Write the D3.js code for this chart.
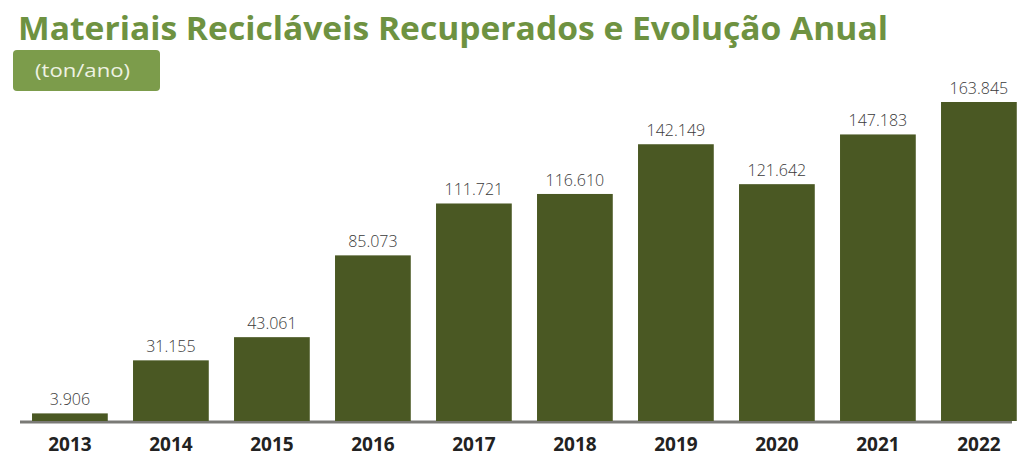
<!DOCTYPE html>
<html>
<head>
<meta charset="utf-8">
<script src="https://cdn.jsdelivr.net/npm/d3@7"></script>
<style>
  html, body { margin: 0; padding: 0; background: #ffffff; }
  svg { display: block; }
</style>
</head>
<body>
<svg id="chart" width="1020" height="457"></svg>
<script>
// Recovered recyclable materials per year (ton/ano)
const years = ["2013", "2014", "2015", "2016", "2017", "2018", "2019", "2020", "2021", "2022"];
const tons = [3906, 31155, 43061, 85073, 111721, 116610, 142149, 121642, 147183, 163845];
const valueLabels = ["3.906", "31.155", "43.061", "85.073", "111.721", "116.610", "142.149", "121.642", "147.183", "163.845"];

const titleText = "Materiais Recicláveis Recuperados e Evolução Anual";
const unitText = "(ton/ano)";

const baseY = 421;
const svg = d3.select("#chart");

const x = d3.scaleBand()
  .domain(years)
  .range([19.4, 1029.4])
  .paddingInner(0.25)
  .paddingOuter(0.125);

const y = d3.scaleLinear()
  .domain([0, 163845])
  .range([baseY, 102]);

// Title
svg.append("text")
  .attr("x", 18)
  .attr("y", 40)
  .attr("textLength", 870)
  .attr("lengthAdjust", "spacingAndGlyphs")
  .style("font-family", "'Open Sans', 'Noto Sans', sans-serif")
  .style("font-weight", 700)
  .style("font-size", "33px")
  .style("fill", "#6e9241")
  .text(titleText);

// Unit badge
svg.append("rect")
  .attr("x", 13).attr("y", 50)
  .attr("width", 147).attr("height", 41)
  .attr("rx", 4)
  .style("fill", "#7c9c4b");
svg.append("text")
  .attr("x", 35).attr("y", 77)
  .attr("textLength", 95)
  .attr("lengthAdjust", "spacingAndGlyphs")
  .style("font-family", "'Open Sans', 'Noto Sans', sans-serif")
  .style("font-weight", 400)
  .style("font-size", "19px")
  .style("fill", "#eef2e2")
  .text(unitText);

// Baseline
svg.append("line")
  .attr("x1", 20).attr("x2", 1012)
  .attr("y1", baseY + 1).attr("y2", baseY + 1)
  .style("stroke", "#7a7a76")
  .style("stroke-width", 3);

// Bars
svg.append("g").selectAll("rect")
  .data(years)
  .join("rect")
  .attr("x", (d) => x(d))
  .attr("width", x.bandwidth())
  .attr("y", (d, i) => y(tons[i]))
  .attr("height", (d, i) => baseY - y(tons[i]))
  .style("fill", "#4a5823");

// Value labels
svg.append("g").selectAll("text")
  .data(years)
  .join("text")
  .attr("x", (d) => x(d) + x.bandwidth() / 2)
  .attr("y", (d, i) => y(tons[i]) - 8)
  .attr("text-anchor", "middle")
  .style("font-family", "'Open Sans', 'Noto Sans', sans-serif")
  .style("font-weight", 300)
  .style("font-size", "16px")
  .style("fill", "#3a3a3a")
  .text((d, i) => valueLabels[i]);

// Year axis labels
const xAxis = d3.axisBottom(x).tickSize(0).tickPadding(0);
const gx = svg.append("g")
  .attr("transform", `translate(0, ${baseY})`)
  .call(xAxis);
gx.select(".domain").remove();
gx.selectAll("text")
  .attr("dy", null)
  .attr("y", 30)
  .style("font-family", "'Open Sans', 'Noto Sans', sans-serif")
  .style("font-weight", 700)
  .style("font-size", "19px")
  .style("fill", "#222222");
</script>
</body>
</html>
